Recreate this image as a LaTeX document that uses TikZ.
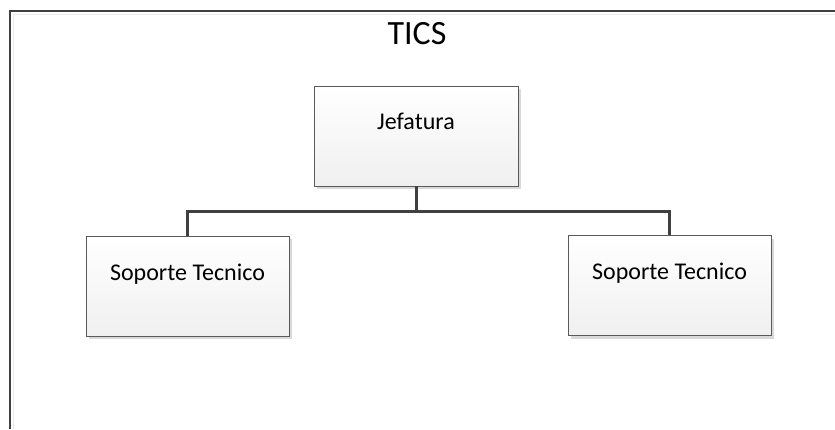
\documentclass[tikz,border=0pt]{standalone}
\usepackage{fontspec}
\setmainfont{Carlito}
\usetikzlibrary{shadows}
\definecolor{edgegray}{HTML}{5A5A5A}
\definecolor{linegray}{HTML}{404040}
\definecolor{shadowgray}{HTML}{D9D9D9}
\definecolor{innergray}{HTML}{EBEBEB}
\tikzset{
  orgbox/.style={draw=edgegray, line width=0.9pt, rectangle,
    minimum width=203pt, minimum height=100pt, inner sep=0pt,
    top color=white, bottom color=black!6,
    font=\fontsize{24}{27}\selectfont, text=black,
    text height=16pt, text depth=28pt,
    drop shadow={shadow xshift=3pt, shadow yshift=-3pt, fill=shadowgray, opacity=1}},
  orgline/.style={draw=linegray, line width=3pt, line join=miter},
  framedark/.style={draw=linegray, line width=1.6pt},
  framelight/.style={draw=innergray, line width=1.6pt}
}
\begin{document}
\begin{tikzpicture}[x=1pt, y=1pt]
  \useasboundingbox (0,0) rectangle (835,429);
  \fill[white] (0,0) rectangle (835,429);
  % page frame (open towards the right and bottom)
  \draw[framelight] (13.5,0) -- (13.5,414.5) -- (835,414.5);
  \draw[framedark] (10,0) -- (10,418) -- (835,418);
  % title
  \node[font=\fontsize{34}{38}\selectfont, anchor=base, text=black] (title) at (417,384) {TICS};
  % org chart boxes
  \node[orgbox, minimum width=204pt] (jef) at (416,293) {Jefatura};
  \node[orgbox] (left) at (187.5,143) {Soporte Tecnico};
  \node[orgbox] (right) at (669.5,143.5) {Soporte Tecnico};
  % connectors
  \coordinate (bus) at (416,218);
  \draw[orgline] (jef.south) -- (bus);
  \draw[orgline] (left.north) |- (bus) -| (right.north);
\end{tikzpicture}
\end{document}
